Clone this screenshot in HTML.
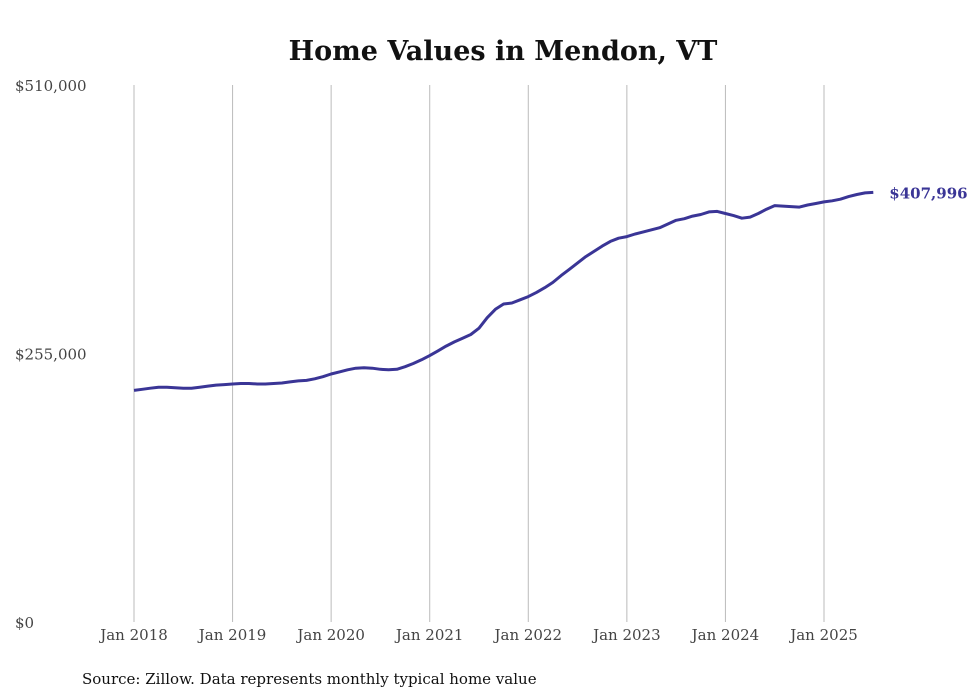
<!DOCTYPE html>
<html><head><meta charset="utf-8"><style>
body{margin:0;background:#fff;width:980px;height:699px;overflow:hidden}
svg{display:block}
</style></head><body>
<svg width="980" height="699">
<text x="503" y="60" text-anchor="middle" font-family="DejaVu Serif, serif" font-weight="bold" font-size="27" fill="#111">Home Values in Mendon, VT</text>
<g id="grid"></g><g id="yaxis"></g><g id="xaxis"></g>
<path id="line" fill="none" stroke="#3a3596" stroke-width="3" stroke-linejoin="round"/>
<text id="endlabel" font-family="DejaVu Serif, serif" font-weight="bold" font-size="15" fill="#3a3596"></text>
<text x="82" y="684" font-family="DejaVu Serif, serif" font-size="15" fill="#111">Source: Zillow. Data represents monthly typical home value</text>
</svg>
<script>
const years=[2018,2019,2020,2021,2022,2023,2024,2025];
const yTicks=[0,255000,510000];
const yTickLabels=["$0","$255,000","$510,000"];
const values=[220,221,222,223,223,222.5,222,222,223,224,225,225.5,
226,226.5,226.5,226,226,226.5,227,228,229,229.5,231,233,
235.5,237.5,239.5,241,241.5,241,240,239.5,240,242.5,245.5,249,
253,257.5,262,266,269.5,273,279,289,297,302,303,306,
309,313,317.5,322.5,329,335,341,347,352,357,361.5,364.5,
366,368.5,370.5,372.5,374.5,378,381.5,383,385.5,387,389.5,390,
388,386,383.5,384.5,388,392,395.5,395,394.5,394,396,397.5,
399,400,401.5,404,406,407.5,407.996].map(v=>v*1000);
const ns="http://www.w3.org/2000/svg";
const x=m=>134+m*(690/84);
const y=v=>622-v*(537/510000);
const grid=document.getElementById('grid'),xa=document.getElementById('xaxis'),ya=document.getElementById('yaxis');
years.forEach((yr,i)=>{
 const l=document.createElementNS(ns,'line');
 
 
 l.setAttribute('x1',x(i*12));l.setAttribute('x2',x(i*12));l.setAttribute('y1',85);l.setAttribute('y2',622);
 l.setAttribute('stroke','#bbb');l.setAttribute('stroke-width','1');grid.appendChild(l);
 const t=document.createElementNS(ns,'text');
 
 
 t.setAttribute('x',x(i*12));t.setAttribute('y',640);t.setAttribute('text-anchor','middle');
 t.setAttribute('font-family','DejaVu Serif, serif');t.setAttribute('font-size','15');t.setAttribute('fill','#444');
 t.textContent='Jan '+yr;xa.appendChild(t);
});
yTicks.forEach((v,i)=>{
 const t=document.createElementNS(ns,'text');
 
 
 t.setAttribute('x',15);t.setAttribute('y',y(v)+6);
 t.setAttribute('font-family','DejaVu Serif, serif');t.setAttribute('font-size','15');t.setAttribute('fill','#444');
 t.textContent=yTickLabels[i];ya.appendChild(t);
});
document.getElementById('line').setAttribute('d',values.map((v,i)=>(i?'L':'M')+x(i).toFixed(1)+','+y(v).toFixed(1)).join(''));
const last=values.length-1,el=document.getElementById('endlabel');
el.setAttribute('x',x(last)+16);el.setAttribute('y',y(values[last])+6);
el.textContent='$'+Math.round(values[last]).toLocaleString('en-US');
</script>
</body></html>
